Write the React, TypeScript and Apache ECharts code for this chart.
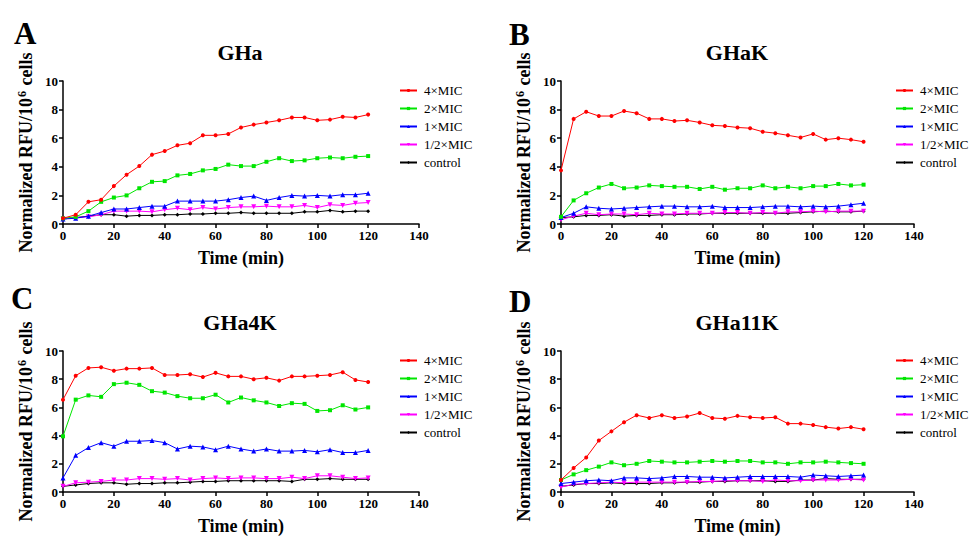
import React, { useEffect, useRef } from "react";
import * as echarts from "echarts";

const times = [0, 5, 10, 15, 20, 25, 30, 35, 40, 45, 50, 55, 60, 65, 70, 75, 80, 85, 90, 95, 100, 105, 110, 115, 120];
const seriesNames = ["4×MIC", "2×MIC", "1×MIC", "1/2×MIC", "control"];
const panelTitles = ["GHa", "GHaK", "GHa4K", "GHa11K"];
const panelLetters = ["A", "B", "C", "D"];
const xTicks = [0, 20, 40, 60, 80, 100, 120, 140];
const yTicks = [0, 2, 4, 6, 8, 10];

// Panel A: GHa
const gha4 = [0.4, 0.65, 1.55, 1.7, 2.65, 3.45, 4.05, 4.85, 5.1, 5.5, 5.65, 6.2, 6.2, 6.3, 6.75, 6.95, 7.1, 7.25, 7.45, 7.45, 7.25, 7.3, 7.5, 7.45, 7.65];
const gha2 = [0.4, 0.5, 0.9, 1.55, 1.85, 2.0, 2.5, 2.95, 3.0, 3.4, 3.5, 3.75, 3.85, 4.15, 4.05, 4.05, 4.35, 4.6, 4.4, 4.45, 4.6, 4.65, 4.6, 4.7, 4.75];
const gha1 = [0.35, 0.4, 0.55, 0.8, 1.05, 1.05, 1.15, 1.25, 1.25, 1.6, 1.6, 1.6, 1.6, 1.7, 1.85, 1.95, 1.65, 1.85, 2.0, 1.95, 2.0, 1.95, 2.05, 2.05, 2.15];
const ghaHalf = [0.35, 0.45, 0.5, 0.65, 0.9, 0.9, 0.9, 0.85, 1.0, 1.1, 1.0, 1.15, 1.05, 1.15, 1.2, 1.2, 1.25, 1.2, 1.2, 1.3, 1.15, 1.35, 1.3, 1.45, 1.5];
const ghaCtrl = [0.35, 0.45, 0.55, 0.65, 0.65, 0.55, 0.6, 0.6, 0.65, 0.65, 0.7, 0.7, 0.75, 0.75, 0.8, 0.75, 0.75, 0.75, 0.75, 0.85, 0.85, 0.95, 0.85, 0.9, 0.9];

// Panel B: GHaK
const ghak4 = [3.75, 7.35, 7.85, 7.55, 7.55, 7.9, 7.75, 7.35, 7.35, 7.2, 7.25, 7.1, 6.9, 6.85, 6.75, 6.7, 6.45, 6.35, 6.2, 6.05, 6.3, 5.9, 6.0, 5.9, 5.75];
const ghak2 = [0.5, 1.65, 2.15, 2.55, 2.8, 2.5, 2.55, 2.7, 2.65, 2.6, 2.6, 2.45, 2.6, 2.4, 2.5, 2.5, 2.7, 2.5, 2.6, 2.5, 2.65, 2.65, 2.8, 2.7, 2.75];
const ghak1 = [0.45, 0.75, 1.2, 1.1, 1.05, 1.1, 1.15, 1.2, 1.25, 1.25, 1.2, 1.2, 1.25, 1.15, 1.15, 1.15, 1.2, 1.25, 1.25, 1.2, 1.25, 1.2, 1.25, 1.35, 1.45];
const ghakHalf = [0.3, 0.55, 0.75, 0.65, 0.7, 0.7, 0.65, 0.75, 0.7, 0.7, 0.75, 0.75, 0.75, 0.8, 0.8, 0.75, 0.8, 0.75, 0.85, 0.85, 0.9, 0.85, 0.9, 0.9, 0.9];
const ghakCtrl = [0.45, 0.5, 0.6, 0.6, 0.65, 0.55, 0.6, 0.6, 0.65, 0.65, 0.7, 0.7, 0.75, 0.75, 0.75, 0.75, 0.75, 0.75, 0.75, 0.8, 0.85, 0.9, 0.85, 0.85, 0.9];

// Panel C: GHa4K
const gha4k4 = [6.55, 8.25, 8.8, 8.85, 8.6, 8.75, 8.75, 8.8, 8.3, 8.3, 8.35, 8.15, 8.45, 8.2, 8.2, 8.0, 8.1, 7.9, 8.2, 8.2, 8.25, 8.3, 8.5, 7.95, 7.8];
const gha4k2 = [3.95, 6.55, 6.85, 6.75, 7.65, 7.75, 7.6, 7.15, 7.05, 6.8, 6.65, 6.65, 6.9, 6.35, 6.7, 6.5, 6.35, 6.1, 6.3, 6.25, 5.75, 5.8, 6.15, 5.85, 6.0];
const gha4k1 = [1.0, 2.6, 3.15, 3.5, 3.25, 3.6, 3.6, 3.65, 3.5, 3.05, 3.25, 3.2, 3.0, 3.25, 3.05, 2.9, 3.05, 2.9, 2.9, 2.95, 2.85, 3.0, 2.8, 2.8, 2.95];
const gha4kHalf = [0.4, 0.65, 0.7, 0.75, 0.85, 0.85, 0.95, 0.95, 0.9, 0.95, 0.85, 0.95, 1.0, 0.95, 1.0, 1.0, 0.95, 0.95, 1.05, 0.95, 1.15, 1.15, 1.05, 0.95, 1.0];
const gha4kCtrl = [0.4, 0.5, 0.6, 0.65, 0.65, 0.55, 0.6, 0.6, 0.65, 0.65, 0.7, 0.75, 0.75, 0.8, 0.8, 0.8, 0.8, 0.8, 0.75, 0.9, 0.9, 0.95, 0.9, 0.9, 0.9];

// Panel D: GHa11K
const gha11k4 = [0.85, 1.7, 2.45, 3.65, 4.3, 4.95, 5.45, 5.25, 5.45, 5.25, 5.35, 5.6, 5.25, 5.2, 5.4, 5.3, 5.25, 5.3, 4.85, 4.85, 4.75, 4.6, 4.5, 4.6, 4.45];
const gha11k2 = [0.85, 1.25, 1.55, 1.8, 2.1, 1.9, 2.0, 2.2, 2.15, 2.1, 2.1, 2.15, 2.2, 2.15, 2.2, 2.2, 2.1, 2.1, 2.0, 2.1, 2.1, 2.15, 2.1, 2.05, 2.0];
const gha11k1 = [0.6, 0.7, 0.8, 0.85, 0.8, 1.0, 1.0, 0.95, 1.0, 1.1, 1.1, 1.05, 1.05, 1.0, 1.05, 1.1, 1.1, 1.1, 1.1, 1.05, 1.2, 1.15, 1.1, 1.15, 1.2];
const gha11kHalf = [0.35, 0.55, 0.6, 0.65, 0.7, 0.65, 0.7, 0.7, 0.7, 0.7, 0.7, 0.75, 0.75, 0.8, 0.8, 0.8, 0.75, 0.85, 0.8, 0.8, 0.85, 0.85, 0.85, 0.9, 0.85];
const gha11kCtrl = [0.4, 0.5, 0.6, 0.6, 0.65, 0.6, 0.6, 0.6, 0.65, 0.65, 0.7, 0.7, 0.75, 0.75, 0.8, 0.8, 0.8, 0.75, 0.75, 0.85, 0.85, 0.95, 0.9, 0.9, 0.9];

const panelData = [
  [gha4, gha2, gha1, ghaHalf, ghaCtrl],
  [ghak4, ghak2, ghak1, ghakHalf, ghakCtrl],
  [gha4k4, gha4k2, gha4k1, gha4kHalf, gha4kCtrl],
  [gha11k4, gha11k2, gha11k1, gha11kHalf, gha11kCtrl],
];

const colors = ["#ff0000", "#00e600", "#0000ff", "#ff00ff", "#000000"];
const symbols = ["circle", "rect", "triangle", "triangle", "diamond"];
const symbolRotates = [0, 0, 0, 180, 0];
const symbolSizes = [4, 4, 5, 5, 4];

const FONT = "'Liberation Serif', 'Times New Roman', serif";

const grids = [
  { left: 63, top: 81, width: 356, height: 143 },
  { left: 561, top: 81, width: 353, height: 143 },
  { left: 63, top: 351, width: 356, height: 143 },
  { left: 561, top: 351, width: 353, height: 143 },
];
const legendPos = [
  { left: 399, top: 84 },
  { left: 895, top: 84 },
  { left: 399, top: 354 },
  { left: 895, top: 354 },
];
const titlePos = [
  { x: 240, y: 52 },
  { x: 737, y: 52 },
  { x: 240, y: 322 },
  { x: 737, y: 322 },
];
const letterPos = [
  { x: 14, y: 18 },
  { x: 509, y: 19 },
  { x: 11, y: 283 },
  { x: 509, y: 286 },
];

export default function App() {
  const ref = useRef<HTMLDivElement>(null);
  useEffect(() => {
    if (!ref.current) return;
    const chart = echarts.init(ref.current, null, { renderer: "svg" });

    const xAxis: any[] = [];
    const yAxis: any[] = [];
    const series: any[] = [];
    const legend: any[] = [];
    const graphic: any[] = [];

    grids.forEach((g, i) => {
      xAxis.push({
        type: "value",
        gridIndex: i,
        min: 0,
        max: xTicks[xTicks.length - 1],
        interval: 20,
        name: "Time (min)",
        nameLocation: "middle",
        nameGap: 25,
        nameTextStyle: { fontFamily: FONT, fontWeight: "bold", fontSize: 18, color: "#000" },
        axisLine: { lineStyle: { color: "#000", width: 1.5 } },
        axisTick: { show: true, length: 4, lineStyle: { color: "#000", width: 1.5 } },
        axisLabel: { fontFamily: FONT, fontWeight: "bold", fontSize: 13, color: "#000", margin: 5 },
        splitLine: { show: false },
      });
      yAxis.push({
        type: "value",
        gridIndex: i,
        min: 0,
        max: yTicks[yTicks.length - 1],
        interval: 2,
        name: "{a|Normalized RFU/10}{b|6}{a| cells}",
        nameLocation: "middle",
        nameGap: 27,
        nameTextStyle: {
          rich: {
            a: { fontFamily: FONT, fontWeight: "bold", fontSize: 18, color: "#000", lineHeight: 20 },
            b: { fontFamily: FONT, fontWeight: "bold", fontSize: 12, color: "#000", lineHeight: 20, verticalAlign: "top", padding: [0, 1, 8, 1] },
          },
        },
        axisLine: { show: true, lineStyle: { color: "#000", width: 1.5 } },
        axisTick: { show: true, length: 4, lineStyle: { color: "#000", width: 1.5 } },
        axisLabel: { fontFamily: FONT, fontWeight: "bold", fontSize: 13, color: "#000", margin: 5 },
        splitLine: { show: false },
      });
      panelData[i].forEach((vals, k) => {
        series.push({
          type: "line",
          name: seriesNames[k],
          xAxisIndex: i,
          yAxisIndex: i,
          data: times.map((t, j) => [t, vals[j]]),
          symbol: symbols[k],
          symbolSize: symbolSizes[k],
          symbolRotate: symbolRotates[k],
          showAllSymbol: true,
          z: 10 - k,
          lineStyle: { color: colors[k], width: 1 },
          itemStyle: { color: colors[k] },
        });
      });
      legend.push({
        orient: "vertical",
        left: legendPos[i].left,
        top: legendPos[i].top,
        itemWidth: 17,
        itemHeight: 4,
        itemGap: 5,
        padding: 0,
        data: seriesNames,
        textStyle: { fontFamily: FONT, fontSize: 13, color: "#000", padding: [0, 0, 0, 2], lineHeight: 12 },
      });
      graphic.push({
        type: "text",
        x: titlePos[i].x,
        y: titlePos[i].y,
        style: {
          text: panelTitles[i],
          fontFamily: FONT,
          fontWeight: "bold",
          fontSize: 22,
          fill: "#000",
          align: "center",
          verticalAlign: "middle",
        },
      });
      graphic.push({
        type: "text",
        x: letterPos[i].x,
        y: letterPos[i].y,
        style: {
          text: panelLetters[i],
          fontFamily: FONT,
          fontWeight: "bold",
          fontSize: 31,
          fill: "#000",
        },
      });
    });

    chart.setOption({
      animation: false,
      backgroundColor: "#ffffff",
      grid: grids.map((g) => ({ ...g, containLabel: false })),
      xAxis,
      yAxis,
      series,
      legend,
      graphic,
    });
    return () => chart.dispose();
  }, []);
  return <div ref={ref} style={{ position: "fixed", left: 0, top: 0, width: 969, height: 536 }} />;
}
